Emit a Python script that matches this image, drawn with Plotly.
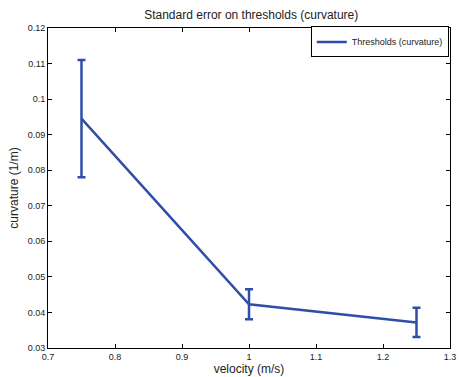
import plotly.graph_objects as go

velocity = [0.75, 1.0, 1.25]
curvature = [0.0945, 0.0423, 0.0372]
std_err = [0.0165, 0.0042, 0.0041]

x_ticks = [0.7, 0.8, 0.9, 1.0, 1.1, 1.2, 1.3]
x_labels = ["0.7", "0.8", "0.9", "1", "1.1", "1.2", "1.3"]
y_ticks = [0.03, 0.04, 0.05, 0.06, 0.07, 0.08, 0.09, 0.1, 0.11, 0.12]
y_labels = ["0.03", "0.04", "0.05", "0.06", "0.07", "0.08", "0.09", "0.1", "0.11", "0.12"]

color = "#2f4ea8"
font = "Liberation Sans, Arial, sans-serif"

fig = go.Figure()
fig.add_trace(go.Scatter(
    x=velocity, y=curvature, mode="lines",
    name="Thresholds (curvature)",
    line=dict(color=color, width=2.5),
    error_y=dict(type="data", array=std_err, visible=True, color=color, thickness=2.5, width=4),
))

axis_common = dict(
    showline=True, linecolor="black", linewidth=1, mirror="allticks",
    ticks="inside", ticklen=4, tickcolor="black", showgrid=False, zeroline=False,
    tickfont=dict(family=font, size=9, color="#222"),
    ticklabeloverflow="allow",
)

fig.update_layout(
    width=461, height=377,
    margin=dict(l=48, r=5, t=28, b=28),
    paper_bgcolor="white", plot_bgcolor="white",
    title=dict(text="Standard error on thresholds (curvature)", x=0.545, xanchor="center",
               y=0.972, yanchor="top", font=dict(family=font, size=12, color="#222")),
    xaxis=dict(range=[0.7, 1.3], tickvals=x_ticks, ticktext=x_labels,
               title=dict(text="velocity (m/s)", font=dict(family=font, size=12, color="#222"), standoff=2),
               **axis_common),
    yaxis=dict(range=[0.03, 0.12], tickvals=y_ticks, ticktext=y_labels,
               title=dict(text="curvature (1/m)", font=dict(family=font, size=12, color="#222"), standoff=6),
               **axis_common),
    legend=dict(x=0.997, y=1.005, xanchor="right", yanchor="top",
                bgcolor="white", bordercolor="black", borderwidth=1,
                font=dict(family=font, size=9, color="#222"),
                itemwidth=30, tracegroupgap=0),
    showlegend=True,
)

fig.write_html("out.html", config={"displayModeBar": False},
               post_script="document.body.style.margin='0';document.body.style.overflow='hidden';")
